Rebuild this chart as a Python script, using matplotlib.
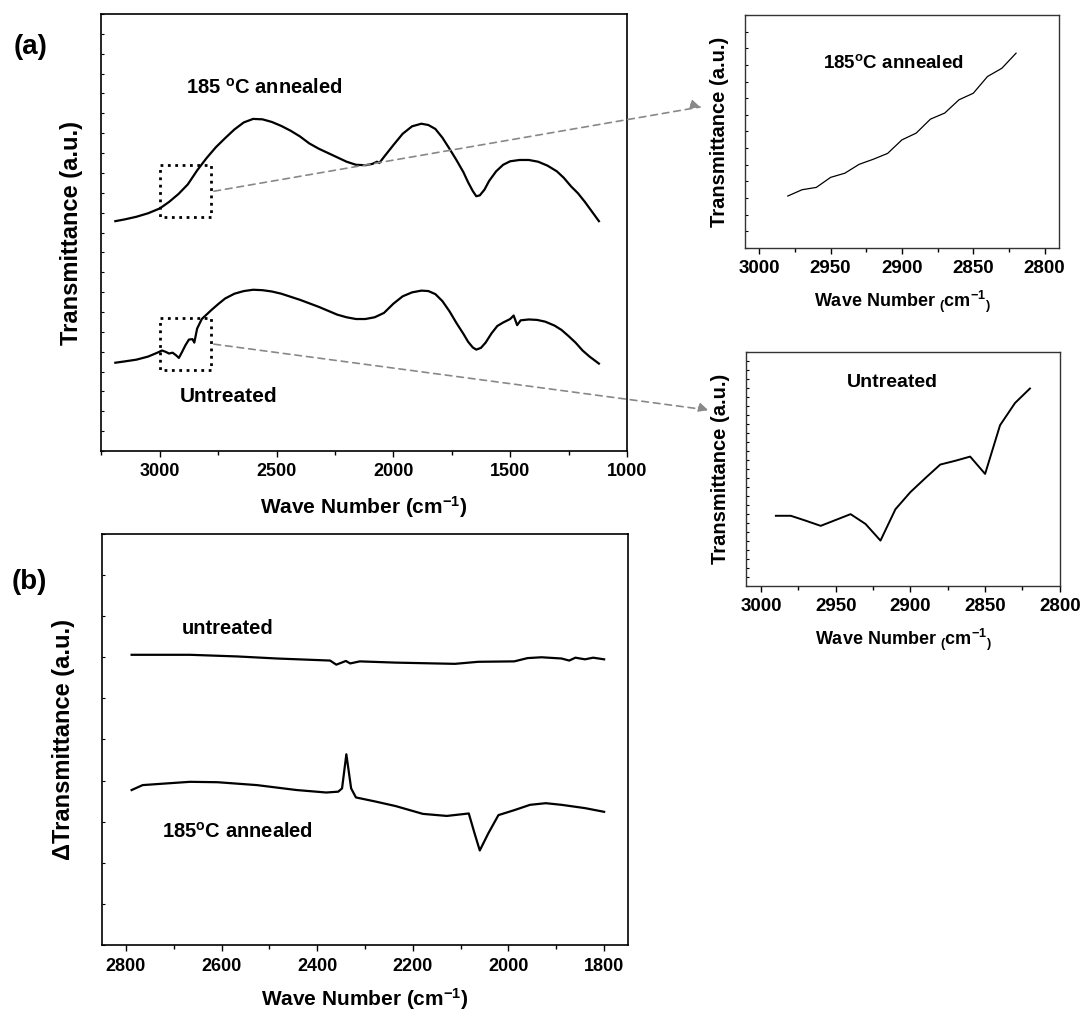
import numpy as np
import matplotlib
matplotlib.use("Agg")
import matplotlib.pyplot as plt
from matplotlib.ticker import MultipleLocator, NullFormatter, FixedLocator
from matplotlib.patches import Rectangle, ConnectionPatch

plt.rcParams['font.family'] = ['Liberation Sans', 'DejaVu Sans']
plt.rcParams['font.weight'] = 'bold'
plt.rcParams['axes.labelweight'] = 'bold'
plt.rcParams['mathtext.fontset'] = 'custom'
plt.rcParams['mathtext.rm'] = 'Liberation Sans:bold'
plt.rcParams['mathtext.bf'] = 'Liberation Sans:bold'
plt.rcParams['mathtext.it'] = 'Liberation Sans:bold'
plt.rcParams['mathtext.default'] = 'rm'

# FTIR spectra, full range (cm-1, transmittance a.u.)
wn_ann = [3190, 3150, 3100, 3050, 3000, 2960, 2920, 2880, 2840, 2800, 2760, 2720,
          2680, 2640, 2600, 2560, 2520, 2480, 2440, 2400, 2360, 2320, 2280, 2240,
          2200, 2160, 2120, 2090, 2070, 2060, 2040, 2000, 1960, 1920, 1880, 1850,
          1820, 1790, 1760, 1730, 1700, 1680, 1660, 1645, 1630, 1610, 1590, 1560,
          1530, 1500, 1460, 1420, 1380, 1340, 1300, 1270, 1240, 1210, 1180, 1150, 1120]
t_ann = [52.6, 53.0, 53.6, 54.4, 55.5, 57.0, 58.8, 61.0, 64.2, 67.0, 69.5, 71.6,
         73.6, 75.2, 76.0, 75.9, 75.3, 74.4, 73.3, 72.0, 70.4, 69.2, 68.2, 67.2,
         66.2, 65.5, 65.4, 65.7, 66.2, 65.9, 67.3, 70.0, 72.6, 74.3, 74.9, 74.6,
         73.7, 71.7, 69.2, 66.6, 63.8, 61.5, 59.5, 58.3, 58.5, 59.8, 61.8, 64.0,
         65.5, 66.3, 66.6, 66.6, 66.2, 65.3, 64.0, 62.5, 60.6, 59.0, 57.0, 54.8, 52.6]

wn_unt = [3190, 3150, 3100, 3050, 3010, 2990, 2975, 2960, 2945, 2930, 2918, 2905,
          2890, 2875, 2860, 2852, 2840, 2820, 2800, 2780, 2750, 2720, 2680, 2640,
          2600, 2560, 2520, 2480, 2440, 2400, 2360, 2320, 2280, 2240, 2200, 2160,
          2120, 2080, 2040, 2000, 1960, 1920, 1880, 1850, 1820, 1790, 1760, 1730,
          1700, 1680, 1660, 1645, 1625, 1605, 1580, 1555, 1530, 1500, 1485, 1470,
          1455, 1420, 1385, 1350, 1310, 1280, 1250, 1220, 1190, 1160, 1120]
t_unt = [20.2, 20.5, 20.9, 21.6, 22.5, 23.0, 22.7, 22.3, 22.5, 21.9, 21.3, 22.6,
         24.2, 25.5, 25.6, 24.8, 28.0, 30.2, 31.2, 32.2, 33.6, 34.9, 36.0, 36.6,
         36.9, 36.8, 36.5, 36.0, 35.3, 34.6, 33.8, 33.0, 32.1, 31.2, 30.6, 30.2,
         30.2, 30.6, 31.6, 33.7, 35.4, 36.3, 36.7, 36.6, 35.9, 34.3, 32.0, 29.3,
         26.8, 25.0, 23.7, 23.2, 23.6, 24.8, 26.9, 28.6, 29.4, 30.2, 31.0, 28.8,
         29.9, 30.1, 30.0, 29.6, 28.7, 27.7, 26.3, 24.8, 23.0, 21.6, 20.0]

# zoomed C-H stretch region
wn_zoom_ann = [2980, 2970, 2960, 2950, 2940, 2930, 2920, 2910, 2900, 2890, 2880,
               2870, 2860, 2850, 2840, 2830, 2820]
t_zoom_ann = [22.3, 25.0, 26.0, 30.3, 32.1, 35.9, 38.1, 40.6, 46.4, 49.3, 55.3,
              57.9, 63.6, 66.4, 73.6, 77.1, 83.6]
wn_zoom_unt = [2990, 2980, 2970, 2960, 2950, 2940, 2930, 2920, 2910, 2900, 2890,
               2880, 2870, 2860, 2850, 2840, 2830, 2820]
t_zoom_unt = [30.0, 30.0, 27.9, 25.7, 28.2, 30.7, 26.5, 19.4, 32.8, 40.1, 46.1,
              51.9, 53.5, 55.3, 47.9, 68.7, 78.2, 84.4]

# zoom window drawn on the full spectra
zoom_wn = [3000, 2780]
box_ann = [53.5, 65.4]
box_unt = [18.5, 30.4]

# difference spectra
wn_d_unt = [2788, 2666, 2567, 2484, 2373, 2360, 2340, 2331, 2311, 2236, 2154, 2112,
            2063, 1988, 1960, 1931, 1889, 1873, 1860, 1840, 1823, 1800]
d_unt = [70.6, 70.6, 70.2, 69.7, 69.2, 68.2, 69.1, 68.5, 69.0, 68.7, 68.5, 68.4,
         68.9, 69.0, 69.8, 70.0, 69.7, 69.2, 69.9, 69.5, 69.9, 69.5]
wn_d_ann = [2788, 2765, 2716, 2666, 2608, 2526, 2443, 2381, 2356, 2348, 2339, 2329,
            2319, 2278, 2236, 2179, 2129, 2083, 2071, 2060, 2042, 2021, 1988, 1955,
            1922, 1889, 1840, 1800]
d_ann = [37.7, 38.9, 39.3, 39.7, 39.6, 38.9, 37.7, 37.1, 37.3, 38.1, 46.4, 38.1,
         35.9, 34.9, 33.8, 31.9, 31.4, 32.0, 27.2, 23.0, 27.2, 31.6, 32.8, 34.1,
         34.5, 34.1, 33.3, 32.4]

xlab = r'Wave Number (cm$^{-1}$)'
xlab_small = r'Wave Number ${}_{(}$cm$^{-1}$${}_{)}$'
deg = r'$^{o}$'


def style_axes(ax, ny, lw=1.2, color='k'):
    for s in ax.spines.values():
        s.set_linewidth(lw)
        s.set_color(color)
    ax.yaxis.set_major_locator(FixedLocator(np.linspace(0, 100, ny + 1)))
    ax.yaxis.set_major_formatter(NullFormatter())
    ax.tick_params(axis='y', direction='in', length=2, width=0.8, left=True, right=False)
    ax.tick_params(axis='x', which='major', direction='out', length=4, width=1.0,
                   labelsize=13, pad=5, top=False)
    ax.tick_params(axis='x', which='minor', direction='out', length=3, width=1.0, top=False)
    ax.set_ylim(0, 100)


fig = plt.figure(figsize=(10.86, 10.32), dpi=100)

# (a) full spectra
ax_a = fig.add_axes([0.0933, 0.563, 0.4840, 0.4234])
ax_a.plot(wn_ann, t_ann, color='k', lw=1.6)
ax_a.plot(wn_unt, t_unt, color='k', lw=1.6)
ax_a.set_xlim(3250, 1000)
style_axes(ax_a, 22)
ax_a.xaxis.set_major_locator(MultipleLocator(500))
ax_a.xaxis.set_minor_locator(MultipleLocator(250))
ax_a.set_xlabel(xlab, fontsize=15, labelpad=10)
ax_a.set_ylabel('Transmittance (a.u.)', fontsize=17, labelpad=10)
for lo, hi in (box_ann, box_unt):
    ax_a.add_patch(Rectangle((zoom_wn[1], lo), zoom_wn[0] - zoom_wn[1], hi - lo,
                             fill=False, ls=':', lw=2, ec='k'))
ax_a.text(0.161, 0.831, '185 ' + deg + 'C annealed', transform=ax_a.transAxes,
          fontsize=14.5, va='center')
ax_a.text(0.150, 0.124, 'Untreated', transform=ax_a.transAxes, fontsize=15, va='center')

# zoomed insets
ax_i1 = fig.add_axes([0.686, 0.7597, 0.289, 0.2258])
ax_i1.plot(wn_zoom_ann, t_zoom_ann, color='k', lw=0.9)
ax_i1.set_xlim(3010, 2790)
style_axes(ax_i1, 14, lw=1.0, color='#333333')
ax_i1.xaxis.set_major_locator(MultipleLocator(50))
ax_i1.xaxis.set_minor_locator(MultipleLocator(25))
ax_i1.tick_params(axis='x', labelsize=13.5)
ax_i1.set_xlabel(xlab_small, fontsize=13, labelpad=8)
ax_i1.set_ylabel('Transmittance (a.u.)', fontsize=14.5, labelpad=8)
ax_i1.text(0.248, 0.794, '185' + deg + 'C annealed', transform=ax_i1.transAxes,
           fontsize=13.5, va='center')

ax_i2 = fig.add_axes([0.6869, 0.4322, 0.289, 0.2267])
ax_i2.plot(wn_zoom_unt, t_zoom_unt, color='k', lw=1.4)
ax_i2.set_xlim(3010, 2800)
style_axes(ax_i2, 26, lw=1.0, color='#333333')
ax_i2.xaxis.set_major_locator(MultipleLocator(50))
ax_i2.xaxis.set_minor_locator(MultipleLocator(25))
ax_i2.tick_params(axis='x', labelsize=13.5)
ax_i2.set_xlabel(xlab_small, fontsize=13, labelpad=8)
ax_i2.set_ylabel('Transmittance (a.u.)', fontsize=14.5, labelpad=8)
ax_i2.text(0.322, 0.868, 'Untreated', transform=ax_i2.transAxes, fontsize=14, va='center')

# dashed pointers from the boxes to the insets
for (lo, hi), ax_in, tip in ((box_ann, ax_i1, (-0.143, 0.605)),
                             (box_unt, ax_i2, (-0.121, 0.752))):
    start = (zoom_wn[1] - 12, (lo + hi) / 2)
    con = ConnectionPatch(xyA=start, coordsA=ax_a.transData,
                          xyB=tip, coordsB=ax_in.transAxes,
                          color='#888888', lw=1.2, ls=(0, (4, 3)))
    fig.add_artist(con)
    head = ConnectionPatch(xyA=(tip[0] - 0.03, tip[1] + 0.012), coordsA=ax_in.transAxes,
                           xyB=tip, coordsB=ax_in.transAxes,
                           arrowstyle='-|>', mutation_scale=14, color='#888888', lw=1.0)
    fig.add_artist(head)

# (b) difference spectra
ax_b = fig.add_axes([0.0939, 0.0843, 0.4844, 0.3983])
ax_b.plot(wn_d_unt, d_unt, color='k', lw=1.6)
ax_b.plot(wn_d_ann, d_ann, color='k', lw=1.6)
ax_b.set_xlim(2850, 1750)
style_axes(ax_b, 10)
ax_b.xaxis.set_major_locator(MultipleLocator(200))
ax_b.xaxis.set_minor_locator(MultipleLocator(100))
ax_b.tick_params(axis='x', labelsize=13)
ax_b.set_xlabel(xlab, fontsize=15, labelpad=8)
ax_b.set_ylabel('\u0394Transmittance (a.u.)', fontsize=17, labelpad=16)
ax_b.text(0.152, 0.771, 'untreated', transform=ax_b.transAxes, fontsize=14.5, va='center')
ax_b.text(0.114, 0.275, '185' + deg + 'C annealed', transform=ax_b.transAxes,
          fontsize=14.5, va='center')

fig.text(0.0285, 0.9545, '(a)', fontsize=20, ha='center', va='center')
fig.text(0.0267, 0.436, '(b)', fontsize=20, ha='center', va='center')

fig.savefig('out.png', dpi=100)
